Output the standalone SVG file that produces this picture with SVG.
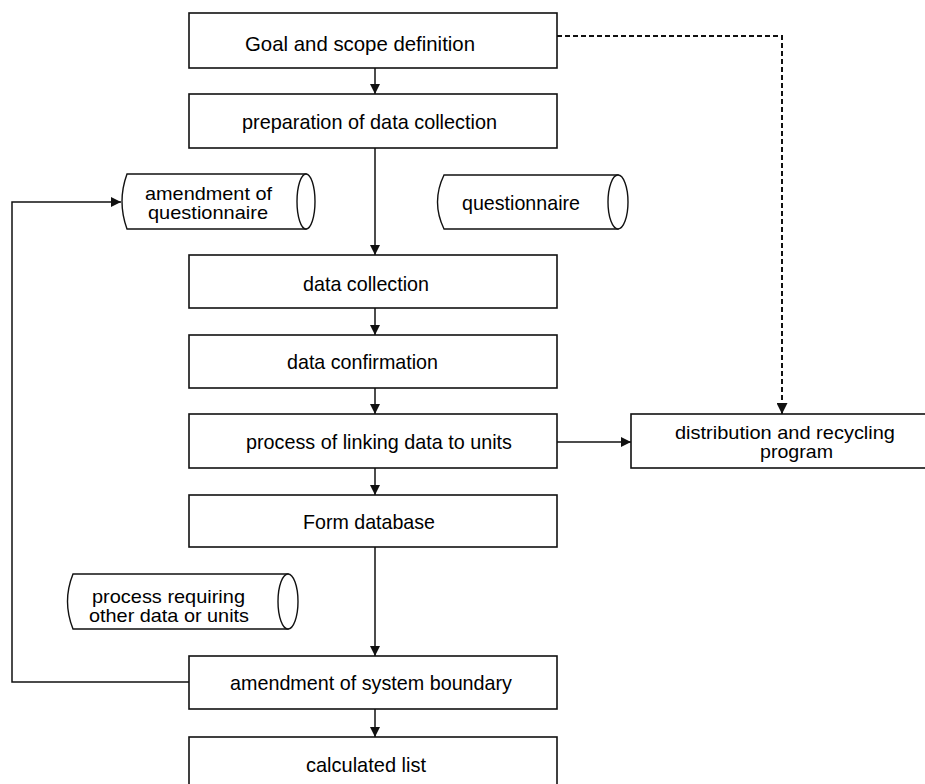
<svg xmlns="http://www.w3.org/2000/svg" width="925" height="784" viewBox="0 0 925 784">
  <style>
    .box { fill: #fff; stroke: #111; stroke-width: 1.6; }
    .cyl { fill: #fff; stroke: #111; stroke-width: 1.4; }
    .lbl { font-family: "Liberation Sans", Arial, sans-serif; font-size: 21px; fill: #000; text-anchor: middle; }
    .lbl2 { font-family: "Liberation Sans", Arial, sans-serif; font-size: 19px; fill: #000; text-anchor: middle; }
    .edge { fill: none; stroke: #111; stroke-width: 1.5; }
    .dash { fill: none; stroke: #111; stroke-width: 2; stroke-dasharray: 5 3; }
  </style>
  <defs>
    <marker id="arrow" viewBox="0 0 10 10" refX="10" refY="5" markerWidth="10" markerHeight="10" markerUnits="userSpaceOnUse" orient="auto">
      <path d="M0,0 L10,5 L0,10 Z" fill="#111"/>
    </marker>
    <marker id="arrowBig" viewBox="0 0 10 10" refX="10" refY="5" markerWidth="11" markerHeight="11" markerUnits="userSpaceOnUse" orient="auto">
      <path d="M0,0 L10,5 L0,10 Z" fill="#111"/>
    </marker>
  </defs>
  <rect width="925" height="784" fill="#fff"/>

  <!-- connectors -->
  <g id="connectors">
    <line class="edge" x1="375" y1="68" x2="375" y2="94" marker-end="url(#arrow)"/>
    <line class="edge" x1="375" y1="148" x2="375" y2="255" marker-end="url(#arrow)"/>
    <line class="edge" x1="375" y1="308" x2="375" y2="335" marker-end="url(#arrow)"/>
    <line class="edge" x1="375" y1="388" x2="375" y2="414" marker-end="url(#arrow)"/>
    <line class="edge" x1="375" y1="468" x2="375" y2="495" marker-end="url(#arrow)"/>
    <line class="edge" x1="375" y1="547" x2="375" y2="656" marker-end="url(#arrow)"/>
    <line class="edge" x1="375" y1="709" x2="375" y2="737" marker-end="url(#arrow)"/>
    <line class="edge" x1="557" y1="442" x2="631" y2="442" marker-end="url(#arrow)"/>
    <polyline class="edge" points="189,682 12,682 12,202 121,202" marker-end="url(#arrow)"/>
    <polyline class="dash" points="557,36 782,36 782,414" marker-end="url(#arrowBig)"/>
  </g>

  <!-- process boxes -->
  <g id="goal">
    <rect class="box" x="189" y="13" width="368" height="55"/>
    <text class="lbl" x="360" y="51" textLength="230" lengthAdjust="spacingAndGlyphs">Goal and scope definition</text>
  </g>
  <g id="preparation">
    <rect class="box" x="189" y="94" width="368" height="54"/>
    <text class="lbl" x="369.5" y="129" textLength="255" lengthAdjust="spacingAndGlyphs">preparation of data collection</text>
  </g>
  <g id="collection">
    <rect class="box" x="189" y="255" width="368" height="53"/>
    <text class="lbl" x="366" y="291" textLength="126" lengthAdjust="spacingAndGlyphs">data collection</text>
  </g>
  <g id="confirmation">
    <rect class="box" x="189" y="335" width="368" height="53"/>
    <text class="lbl" x="362.5" y="369" textLength="151" lengthAdjust="spacingAndGlyphs">data confirmation</text>
  </g>
  <g id="linking">
    <rect class="box" x="189" y="414" width="368" height="54"/>
    <text class="lbl" x="379" y="449" textLength="266" lengthAdjust="spacingAndGlyphs">process of linking data to units</text>
  </g>
  <g id="database">
    <rect class="box" x="189" y="495" width="368" height="52"/>
    <text class="lbl" x="369" y="529" textLength="132" lengthAdjust="spacingAndGlyphs">Form database</text>
  </g>
  <g id="boundary">
    <rect class="box" x="189" y="656" width="368" height="53"/>
    <text class="lbl" x="371" y="690" textLength="282" lengthAdjust="spacingAndGlyphs">amendment of system boundary</text>
  </g>
  <g id="calculated">
    <rect class="box" x="189" y="737" width="368" height="60"/>
    <text class="lbl" x="366" y="772" textLength="120" lengthAdjust="spacingAndGlyphs">calculated list</text>
  </g>
  <g id="distribution">
    <rect class="box" x="631" y="414" width="300" height="54"/>
    <text class="lbl2" x="785" y="439" textLength="220" lengthAdjust="spacingAndGlyphs">distribution and recycling</text>
    <text class="lbl2" x="796.5" y="458" textLength="73" lengthAdjust="spacingAndGlyphs">program</text>
  </g>

  <!-- stored-data cylinders -->
  <g id="amend-questionnaire">
    <path class="cyl" d="M127,174 L306,174 L306,229 L127,229 Q117,201.5 127,174 Z"/>
    <ellipse class="cyl" cx="306" cy="201.5" rx="9" ry="27.5"/>
    <text class="lbl2" x="208.5" y="200" textLength="127" lengthAdjust="spacingAndGlyphs">amendment of</text>
    <text class="lbl2" x="208" y="219" textLength="120" lengthAdjust="spacingAndGlyphs">questionnaire</text>
  </g>
  <g id="questionnaire">
    <path class="cyl" d="M444,175 L618,175 L618,229 L444,229 Q431,202 444,175 Z"/>
    <ellipse class="cyl" cx="618" cy="202" rx="10" ry="27"/>
    <text class="lbl" x="521" y="210" textLength="118" lengthAdjust="spacingAndGlyphs">questionnaire</text>
  </g>
  <g id="other-data">
    <path class="cyl" d="M73,574 L288,574 L288,629 L73,629 Q62,601.5 73,574 Z"/>
    <ellipse class="cyl" cx="288" cy="601.5" rx="10" ry="27.5"/>
    <text class="lbl2" x="168.5" y="603" textLength="153" lengthAdjust="spacingAndGlyphs">process requiring</text>
    <text class="lbl2" x="169" y="622" textLength="160" lengthAdjust="spacingAndGlyphs">other data or units</text>
  </g>
</svg>
